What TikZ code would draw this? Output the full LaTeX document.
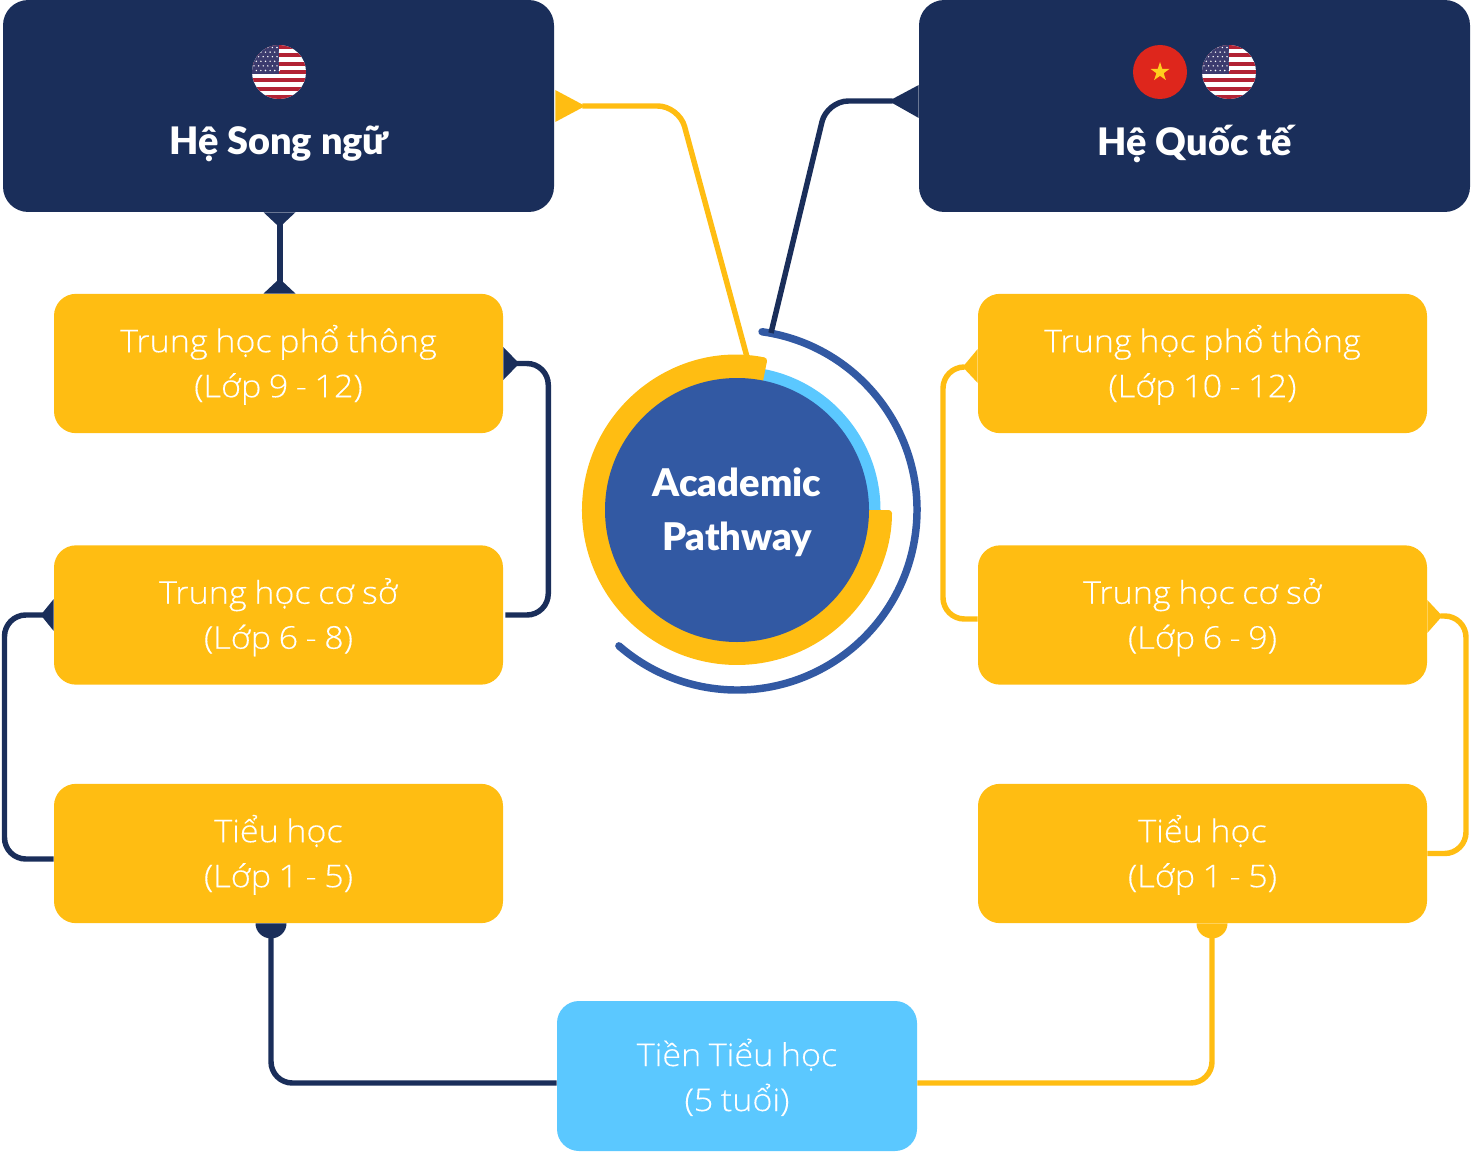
\documentclass[tikz,border=0pt]{standalone}
\usepackage{fontspec}
\usetikzlibrary{calc,shapes.geometric}
\setmainfont{Lato}
\newfontfamily\lblfont[FakeStretch=1.09,FakeBold=0.25,WordSpace=0.85]{Open Sans Light}
\newfontfamily\headfont{Lato Black}
\definecolor{navy}{HTML}{1A2E5A}
\definecolor{gold}{HTML}{FFBD12}
\definecolor{sky}{HTML}{5BC8FF}
\definecolor{royal}{HTML}{3259A3}
\definecolor{flagred}{HTML}{B22234}
\definecolor{flagblue}{HTML}{3C3B6E}
\definecolor{vnred}{HTML}{DE261C}
\definecolor{vnstar}{HTML}{FFCD1E}
\newcommand{\twolines}[2]{\rule{0pt}{22.5pt}#1\\#2}
\tikzset{
  x=0.75pt, y=-0.75pt,
  headbox/.style={fill=navy, rounded corners=19pt, minimum width=413.25pt, minimum height=159pt, inner sep=0pt},
  levelbox/.style={fill=gold, rounded corners=16.5pt, minimum width=336.75pt, minimum height=104.5pt, inner sep=0pt,
    text=white, align=center, font=\lblfont\fontsize{23.5}{33.75}\selectfont},
  prebox/.style={levelbox, fill=sky, minimum width=270pt, minimum height=112.5pt},
  headtext/.style={text=white, inner sep=0pt, font=\headfont\fontsize{28.4}{32}\selectfont},
  navyline/.style={draw=navy, line width=4.1pt, rounded corners=16pt},
  goldline/.style={draw=gold, line width=4.1pt, rounded corners=16pt},
}
\newcommand{\usflag}[1]{%
  \begin{scope}[shift={(#1)}]
    \clip (0,0) circle[radius=27];
    \fill[white] (-27,-27) rectangle (27,27);
    \foreach \s in {0,2,...,12}
      \fill[flagred] (-27,{-27+\s*4.154}) rectangle (27,{-27+(\s+1)*4.154});
    \fill[flagblue] (-27,-27) rectangle (0,2);
    \foreach \r in {0,...,5}
      \foreach \c in {0,...,5}
        \fill[white] ({-25+\c*4.6+mod(\r,2)*2.3},{-24.5+\r*4.6}) circle[radius=0.8];
  \end{scope}}
\begin{document}
\begin{tikzpicture}
\useasboundingbox (0,0) rectangle (1471,1152);

% central emblem
\coordinate (hub) at (737,510);
\draw[royal, line width=5.6pt, line cap=round]
  ($(hub)+(-82:180)$) arc[start angle=-82, end angle=131, radius=180];
\fill[sky] ($(hub)+(-80:143.5)$) arc[start angle=-80, end angle=0, radius=143.5]
  -- ($(hub)+(0:125)$) arc[start angle=0, end angle=-80, radius=125] -- cycle;
\fill[gold, rounded corners=2.5pt] ($(hub)+(-78.6:155)$)
  arc[start angle=-78.6, end angle=-360, radius=155]
  -- ($(hub)+(-360:125)$)
  arc[start angle=-360, end angle=-78.6, radius=125] -- cycle;
\node[circle, fill=royal, minimum size=198pt, inner sep=0pt, text=white, align=center,
  font=\headfont\fontsize{28.6}{40.5}\selectfont] (path) at (hub) {\rule{0pt}{25pt}Academic\\Pathway};

% program headers
\node[headbox] (bil) at (278.5,106) {};
\node[headbox] (intl) at (1194.5,106) {};
\usflag{279,72}
\fill[vnred] (1160,72) circle[radius=27];
\node[star, star points=5, star point ratio=2.6, fill=vnstar, minimum size=15pt, inner sep=0pt] (vnmark) at (1160,72) {};
\usflag{1229,72}
\node[headtext] (biltext) at (279,144) {Hệ Song ngữ};
\node[headtext] (intltext) at (1195,144) {Hệ Quốc tế};

% school levels
\node[levelbox] (lhs) at (278.5,363.5) {\twolines{Trung học phổ thông}{(Lớp 9 - 12)}};
\node[levelbox] (lms) at (278.5,615) {\twolines{Trung học cơ sở}{(Lớp 6 - 8)}};
\node[levelbox] (lps) at (278.5,853.5) {\twolines{Tiểu học}{(Lớp 1 - 5)}};
\node[levelbox] (rhs) at (1202.5,363.5) {\twolines{Trung học phổ thông}{(Lớp 10 - 12)}};
\node[levelbox] (rms) at (1202.5,615) {\twolines{Trung học cơ sở}{(Lớp 6 - 9)}};
\node[levelbox] (rps) at (1202.5,853.5) {\twolines{Tiểu học}{(Lớp 1 - 5)}};
\node[prebox] (pre) at (737,1076) {\twolines{Tiền Tiểu học}{(5 tuổi)}};

% connectors, bilingual track
\fill[gold] ($(bil.east)+(1,-16)$) -- ++(30,16) -- ++(-30,16) -- cycle;
\draw[goldline] ($(bil.east)+(28,0)$) -- (679,106) -- (747,357);
\fill[navy] ($(bil.south)+(-15,0)$) -- ++(16,15) -- ++(16,-15) -- cycle;
\fill[navy] ($(lhs.north)+(-15,0)$) -- ++(16,-15) -- ++(16,15) -- cycle;
\draw[navy, line width=4.1pt] ($(bil.south)+(1.5,10)$) -- ($(lhs.north)+(1.5,-10)$);
\fill[navy] ($(lhs.east)+(0,-16.5)$) -- ++(16,16.5) -- ++(-16,16.5) -- cycle;
\draw[navyline] ($(lhs.east)+(12,0)$) -- ++(33,0) |- ($(lms.east)+(2,0)$);
\fill[navy] ($(lms.west)+(0,-16)$) -- ++(-13,16) -- ++(13,16) -- cycle;
\draw[navyline] ($(lms.west)+(-9,0)$) -- (4.5,615) |- ($(lps.west)+(0,5.5)$);
\fill[navy] ($(lps.south)+(-23,0)$) arc[start angle=180, end angle=0, x radius=15.5, y radius=15] -- cycle;
\draw[navyline] ($(lps.south)+(-7.5,12)$) |- ($(pre.west)+(0,7)$);

% connectors, international track
\fill[navy] ($(intl.west)+(0,-21)$) -- ++(-30,16) -- ++(30,17) -- cycle;
\draw[navyline] ($(intl.west)+(-26,-5)$) -- (827,101) -- (771,333);
\fill[gold] ($(rhs.west)+(0,-14.5)$) -- ++(-15,18) -- ++(15,16) -- cycle;
\draw[goldline] ($(rhs.west)+(-13,3.5)$) -- (943,367) |- ($(rms.west)+(0,4)$);
\fill[gold] ($(rms.east)+(0,-15)$) -- ++(15,16) -- ++(-15,17) -- cycle;
\draw[goldline] ($(rms.east)+(13,1)$) -- (1466,616) |- (rps.east);
\fill[gold] ($(rps.south)+(-6,0)$) arc[start angle=180, end angle=0, x radius=15.5, y radius=15] -- cycle;
\draw[goldline] ($(rps.south)+(9.5,12)$) |- ($(pre.east)+(0,7)$);
\end{tikzpicture}
\end{document}
